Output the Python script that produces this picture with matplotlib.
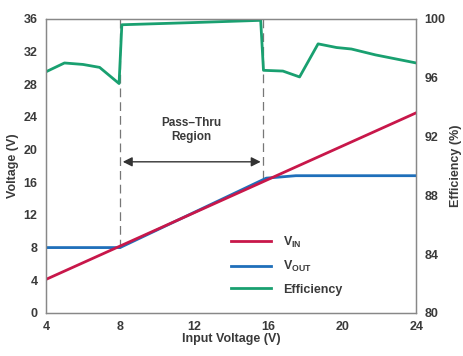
import matplotlib

matplotlib.use('Agg')
import matplotlib.pyplot as plt

plt.rcParams['font.family'] = ['Liberation Sans', 'DejaVu Sans']
plt.rcParams['font.weight'] = 'bold'
plt.rcParams['axes.labelweight'] = 'bold'
plt.rcParams['mathtext.fontset'] = 'custom'
plt.rcParams['mathtext.bf'] = 'Liberation Sans:bold'
plt.rcParams['mathtext.rm'] = 'Liberation Sans:bold'

# --- data ---
vin_x = [4, 24]
vin_y = [4.1, 24.5]

vout_x = [4, 8, 15.9, 17.5, 24]
vout_y = [8, 8, 16.5, 16.8, 16.8]

eff_x = [4, 5, 6, 6.9, 7.95, 8.1, 12, 15.6, 15.75, 16.8, 17.7, 18.7, 19.7, 20.5, 21.8, 24]
eff_y = [96.4, 97.0, 96.9, 96.7, 95.6, 99.6, 99.75, 99.9, 96.5, 96.45, 96.05, 98.3, 98.05, 97.95, 97.55, 97.0]

region_lo, region_hi = 8, 15.75
text_col = '#3a3a3a'
RED, BLUE, GREEN = '#c8174a', '#1f6fba', '#19a070'

fig = plt.figure(figsize=(4.64, 3.56), dpi=100)
ax = fig.add_axes([0.099, 0.121, 0.798, 0.826])
ax2 = ax.twinx()

# dashed region markers
ax.plot([region_lo, region_lo], [8, 36], color='#777777', lw=0.9, ls=(0, (7, 4)), zorder=1)
ax.plot([region_hi, region_hi], [16.4, 36], color='#777777', lw=0.9, ls=(0, (7, 4)), zorder=1)

l_vin, = ax.plot(vin_x, vin_y, color=RED, lw=2, label=r'$\mathbf{V_{IN}}$', zorder=4)
l_vout, = ax.plot(vout_x, vout_y, color=BLUE, lw=2, label=r'$\mathbf{V_{OUT}}$', zorder=3)
l_eff, = ax2.plot(eff_x, eff_y, color=GREEN, lw=2, label='Efficiency')

ax.annotate('', xy=(region_lo, 18.5), xytext=(region_hi, 18.5),
            arrowprops=dict(arrowstyle='<|-|>', color='#333333', lw=1, mutation_scale=14))
ax.text((region_lo + region_hi) / 2, 22.4, 'Pass–Thru\nRegion', ha='center', va='center',
        fontsize=8.5, color=text_col, linespacing=1.3)

ax.set_xlim(4, 24)
ax.set_ylim(0, 36)
ax2.set_ylim(80, 100)
ax.set_xticks(range(4, 25, 4))
ax.set_yticks(range(0, 37, 4))
ax2.set_yticks(range(80, 101, 4))

for a in (ax, ax2):
    a.tick_params(length=0, labelsize=9, colors=text_col, pad=6)
    for lbl in a.get_xticklabels() + a.get_yticklabels():
        lbl.set_fontweight('bold')
    for s in a.spines.values():
        s.set_color('#888888')
        s.set_linewidth(0.9)

ax.set_xlabel('Input Voltage (V)', fontsize=9, color=text_col, labelpad=0)
ax.set_ylabel('Voltage (V)', fontsize=9, color=text_col, labelpad=3)
ax2.set_ylabel('Efficiency (%)', fontsize=9, color=text_col, labelpad=3)

leg = ax.legend(handles=[l_vin, l_vout, l_eff], loc='lower right', bbox_to_anchor=(0.83, 0.02),
                frameon=False, fontsize=9, handlelength=3.2, handletextpad=0.9, labelspacing=0.75)
for t in leg.get_texts():
    t.set_color(text_col)
    t.set_fontweight('bold')

fig.savefig('out.png', dpi=100)
